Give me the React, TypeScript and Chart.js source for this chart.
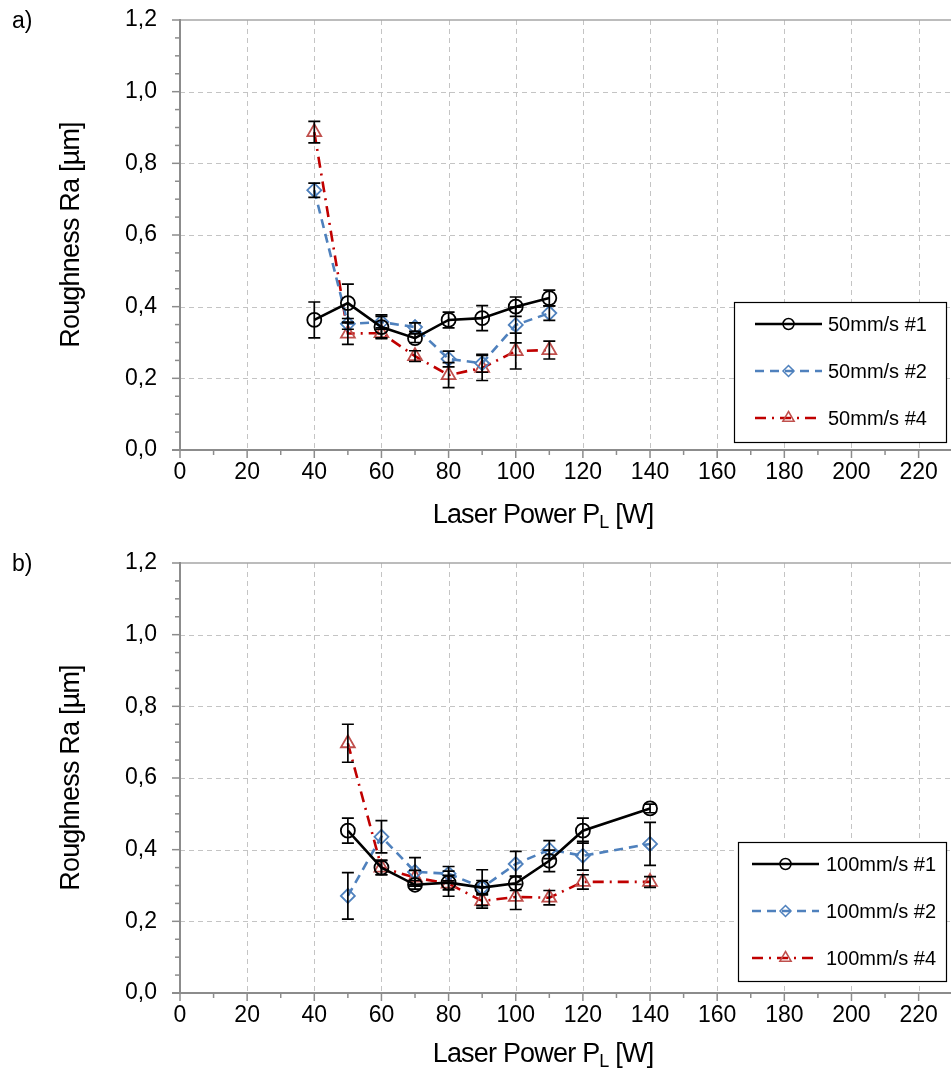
import React, { useEffect, useRef } from "react";
import { Chart, registerables } from "chart.js";

Chart.register(...registerables);

// ---------- data ----------
const powerA = [40, 50, 60, 70, 80, 90, 100, 110];
const a1 = [0.363, 0.41, 0.343, 0.312, 0.363, 0.368, 0.4, 0.424];
const a1Err = [0.05, 0.053, 0.03, 0.012, 0.022, 0.035, 0.027, 0.022];
const a2 = [0.725, 0.352, 0.357, 0.343, 0.254, 0.242, 0.349, 0.382];
const a2Err = [0.02, 0.015, 0.02, 0.012, 0.022, 0.025, 0.05, 0.02];
const a3 = [0.887, 0.325, 0.326, 0.262, 0.209, 0.229, 0.276, 0.279];
const a3Err = [0.03, 0.03, 0.015, 0.015, 0.035, 0.035, 0.05, 0.025];
const labelsA = ["50mm/s #1", "50mm/s #2", "50mm/s #4"];

const powerB = [50, 60, 70, 80, 90, 100, 110, 120, 140];
const b1 = [0.453, 0.35, 0.302, 0.308, 0.294, 0.306, 0.369, 0.453, 0.515];
const b1Err = [0.035, 0.02, 0.012, 0.02, 0.02, 0.02, 0.03, 0.035, 0.012];
const b2 = [0.271, 0.436, 0.338, 0.333, 0.294, 0.36, 0.4, 0.383, 0.416];
const b2Err = [0.065, 0.045, 0.04, 0.02, 0.05, 0.035, 0.025, 0.04, 0.06];
const b3 = [0.697, 0.35, 0.322, 0.305, 0.257, 0.268, 0.266, 0.31, 0.31];
const b3Err = [0.053, 0.02, 0.02, 0.035, 0.02, 0.035, 0.02, 0.02, 0.015];
const labelsB = ["100mm/s #1", "100mm/s #2", "100mm/s #4"];

const xMin = 0, xMax = 230, xMajor = 20, xMinor = 10;
const yMin = 0, yMax = 1.2, yMajor = 0.2, yMinor = 0.05;
const xTitle = "Laser Power P";
const xTitleSub = "L";
const xTitleEnd = " [W]";
const yTitle = "Roughness Ra [µm]";

const FONT = "'Liberation Sans', Arial, sans-serif";
const CANVAS_W = 962; // extra right space absorbed by Chart.js tick padding, clipped by container

const styles = [
  { color: "#000000", markColor: "#000000", dash: [] as number[], pointStyle: "circle", r: 7, lw: 2.6 },
  { color: "#4F81BD", markColor: "#4F81BD", dash: [9, 6], pointStyle: "rectRot", r: 7, lw: 2.6 },
  { color: "#C00000", markColor: "#C0504D", dash: [11, 6, 2, 6], pointStyle: "triangle", r: 8, lw: 2.6 },
];

function drawMarker(ctx: CanvasRenderingContext2D, style: string, x: number, y: number, r: number) {
  ctx.beginPath();
  if (style === "circle") {
    ctx.arc(x, y, r, 0, Math.PI * 2);
  } else if (style === "rectRot") {
    ctx.moveTo(x, y - r);
    ctx.lineTo(x + r, y);
    ctx.lineTo(x, y + r);
    ctx.lineTo(x - r, y);
    ctx.closePath();
  } else {
    ctx.moveTo(x, y - r);
    ctx.lineTo(x + r * 0.87, y + r * 0.5);
    ctx.lineTo(x - r * 0.87, y + r * 0.5);
    ctx.closePath();
  }
  ctx.stroke();
}

type PanelProps = {
  top: number;
  height: number;
  letter: string;
  xs: number[];
  series: number[][];
  errs: number[][];
  labels: string[];
  titleY: number;
  legend: { x0: number; x1: number; y0: number; y1: number; rows: number[]; l0: number; l1: number; tx: number };
};

function Panel(props: PanelProps) {
  const ref = useRef<HTMLCanvasElement | null>(null);
  useEffect(() => {
    const canvas = ref.current;
    if (!canvas) return;
    const { xs, series, errs, labels, legend, letter, height, titleY } = props;
    const datasets = series.map((s, i) => ({
      label: labels[i],
      data: xs.map((x, j) => ({ x, y: s[j] })),
      borderColor: styles[i].color,
      borderWidth: styles[i].lw,
      borderDash: styles[i].dash,
      pointStyle: styles[i].pointStyle,
      pointRadius: styles[i].r,
      pointBorderColor: styles[i].markColor,
      pointBackgroundColor: "rgba(0,0,0,0)",
      pointBorderWidth: 1.8,
      showLine: true,
      fill: false,
      tension: 0,
    }));

    const plugin = {
      id: "decor",
      beforeDatasetsDraw(chart: any) {
        const ctx = chart.ctx as CanvasRenderingContext2D;
        const xs_ = chart.scales.x;
        const ys_ = chart.scales.y;
        const a = chart.chartArea;
        ctx.save();
        ctx.strokeStyle = "#c4c4c4";
        ctx.lineWidth = 1;
        ctx.setLineDash([5, 4]);
        for (let v = xMajor; v <= xMax + 1e-9; v += xMajor) {
          const px = Math.round(xs_.getPixelForValue(v)) + 0.5;
          ctx.beginPath();
          ctx.moveTo(px, a.top);
          ctx.lineTo(px, a.bottom);
          ctx.stroke();
        }
        for (let k = 1; k * yMajor < yMax - 1e-9; k++) {
          const py = Math.round(ys_.getPixelForValue(k * yMajor)) + 0.5;
          ctx.beginPath();
          ctx.moveTo(a.left, py);
          ctx.lineTo(a.right, py);
          ctx.stroke();
        }
        ctx.setLineDash([]);
        ctx.strokeStyle = "#a6a6a6";
        ctx.lineWidth = 1.5;
        ctx.beginPath();
        ctx.moveTo(a.left, a.top);
        ctx.lineTo(a.right, a.top);
        ctx.stroke();
        ctx.strokeStyle = "#8c8c8c";
        ctx.lineWidth = 2;
        ctx.beginPath();
        ctx.moveTo(a.left, a.top - 1);
        ctx.lineTo(a.left, a.bottom);
        ctx.moveTo(a.left - 8, a.bottom);
        ctx.lineTo(a.right, a.bottom);
        ctx.stroke();
        ctx.lineWidth = 1.5;
        const ny = Math.round((yMax - yMin) / yMinor);
        for (let k = 0; k <= ny; k++) {
          const v = yMin + k * yMinor;
          const py = ys_.getPixelForValue(v);
          const major = k % Math.round(yMajor / yMinor) === 0;
          ctx.beginPath();
          ctx.moveTo(a.left - (major ? 8 : 5), py);
          ctx.lineTo(a.left, py);
          ctx.stroke();
        }
        const nx = Math.round((xMax - xMin) / xMinor);
        for (let k = 0; k <= nx; k++) {
          const v = xMin + k * xMinor;
          const px = xs_.getPixelForValue(v);
          const major = k % Math.round(xMajor / xMinor) === 0;
          ctx.beginPath();
          ctx.moveTo(px, a.bottom);
          ctx.lineTo(px, a.bottom + (major ? 8 : 5));
          ctx.stroke();
        }
        ctx.restore();
      },
      afterDatasetsDraw(chart: any) {
        const ctx = chart.ctx as CanvasRenderingContext2D;
        const xs_ = chart.scales.x;
        const ys_ = chart.scales.y;
        ctx.save();
        ctx.strokeStyle = "#000";
        ctx.lineWidth = 1.7;
        ctx.setLineDash([]);
        series.forEach((s, i) => {
          s.forEach((v, j) => {
            const e = errs[i][j];
            const px = xs_.getPixelForValue(xs[j]);
            const p0 = ys_.getPixelForValue(v - e);
            const p1 = ys_.getPixelForValue(v + e);
            ctx.beginPath();
            ctx.moveTo(px, p0);
            ctx.lineTo(px, p1);
            ctx.moveTo(px - 6, p0);
            ctx.lineTo(px + 6, p0);
            ctx.moveTo(px - 6, p1);
            ctx.lineTo(px + 6, p1);
            ctx.stroke();
          });
        });
        ctx.restore();
      },
      afterDraw(chart: any) {
        const ctx = chart.ctx as CanvasRenderingContext2D;
        const a = chart.chartArea;
        ctx.save();
        ctx.fillStyle = "#000";
        ctx.font = `23px ${FONT}`;
        ctx.textAlign = "left";
        ctx.textBaseline = "middle";
        ctx.fillText(letter, 12, 22);
        // x title with subscript
        ctx.font = `27px ${FONT}`;
        (ctx as any).letterSpacing = "-0.8px";
        const w1 = ctx.measureText(xTitle).width;
        ctx.font = `18px ${FONT}`;
        const w2 = ctx.measureText(xTitleSub).width;
        ctx.font = `27px ${FONT}`;
        const w3 = ctx.measureText(xTitleEnd).width;
        const total = w1 + w2 + w3;
        const cx = 543;
        let x0 = cx - total / 2;
        ctx.textBaseline = "alphabetic";
        ctx.fillText(xTitle, x0, titleY + 10);
        x0 += w1;
        ctx.font = `18px ${FONT}`;
        ctx.fillText(xTitleSub, x0, titleY + 15);
        x0 += w2;
        ctx.font = `27px ${FONT}`;
        ctx.fillText(xTitleEnd, x0, titleY + 10);
        // y title
        ctx.save();
        ctx.translate(72, (a.top + a.bottom) / 2);
        ctx.rotate(-Math.PI / 2);
        ctx.textAlign = "center";
        ctx.textBaseline = "middle";
        ctx.font = `27px ${FONT}`;
        ctx.fillText(yTitle, 0, 0);
        ctx.restore();
        (ctx as any).letterSpacing = "0px";
        // legend
        ctx.fillStyle = "#fff";
        ctx.fillRect(legend.x0, legend.y0, legend.x1 - legend.x0, legend.y1 - legend.y0);
        ctx.strokeStyle = "#000";
        ctx.lineWidth = 1.2;
        ctx.strokeRect(legend.x0 + 0.5, legend.y0 + 0.5, legend.x1 - legend.x0, legend.y1 - legend.y0);
        labels.forEach((lab, i) => {
          const ry = legend.rows[i];
          const st = styles[i];
          ctx.strokeStyle = st.color;
          ctx.lineWidth = st.lw;
          ctx.setLineDash(st.dash);
          ctx.beginPath();
          ctx.moveTo(legend.l0, ry);
          ctx.lineTo(legend.l1, ry);
          ctx.stroke();
          ctx.setLineDash([]);
          ctx.strokeStyle = st.markColor;
          ctx.lineWidth = 1.5;
          drawMarker(ctx, st.pointStyle, (legend.l0 + legend.l1) / 2, ry, st.pointStyle === "triangle" ? 6.5 : 5.5);
          ctx.fillStyle = "#000";
          ctx.font = `20px ${FONT}`;
          ctx.textAlign = "left";
          ctx.textBaseline = "middle";
          ctx.fillText(lab, legend.tx, ry + 1);
        });
        ctx.restore();
      },
    };

    const chart = new Chart(canvas, {
      type: "scatter",
      data: { datasets: datasets as any },
      plugins: [plugin],
      options: {
        animation: false,
        responsive: false,
        maintainAspectRatio: false,
        layout: { padding: { top: 20, left: 0, right: 0, bottom: 0 } },
        plugins: { legend: { display: false }, tooltip: { enabled: false } },
        scales: {
          x: {
            type: "linear",
            min: xMin,
            max: xMax,
            afterFit: (s: any) => {
              s.height = height - 450;
              s.paddingLeft = 0;
              s.paddingRight = 0;
              s.paddingTop = 0;
              s.paddingBottom = 0;
            },
            grid: { display: false, drawTicks: false },
            border: { display: false },
            ticks: {
              stepSize: xMinor,
              autoSkip: false,
              maxRotation: 0,
              padding: 9,
              color: "#000",
              font: { family: FONT, size: 23 },
              callback: (v: any) => (Math.round(Number(v)) % xMajor === 0 && Number(v) <= 220 ? String(Math.round(Number(v))) : ""),
            },
          },
          y: {
            type: "linear",
            min: yMin,
            max: yMax,
            afterFit: (s: any) => {
              s.width = 180;
              s.paddingLeft = 0;
              s.paddingRight = 0;
              s.paddingTop = 0;
              s.paddingBottom = 0;
            },
            grid: { display: false, drawTicks: false },
            border: { display: false },
            ticks: {
              stepSize: yMinor,
              autoSkip: false,
              padding: 23,
              color: "#000",
              font: { family: FONT, size: 23 },
              callback: (v: any) => {
                const n = Math.round(Number(v) * 100);
                return n % Math.round(yMajor * 100) === 0 ? (n / 100).toFixed(1).replace(".", ",") : "";
              },
            },
          },
        },
      } as any,
    });
    return () => chart.destroy();
  }, []);
  return (
    <canvas
      ref={ref}
      width={CANVAS_W}
      height={props.height}
      style={{ position: "absolute", left: 0, top: props.top, width: CANVAS_W, height: props.height, display: "block" }}
    />
  );
}

export default function App() {
  return (
    <div style={{ position: "absolute", left: 0, top: 0, width: 951, height: 1069, background: "#fff", overflow: "hidden" }}>
      <Panel
        top={0}
        height={543}
        letter="a)"
        xs={powerA}
        series={[a1, a2, a3]}
        errs={[a1Err, a2Err, a3Err]}
        labels={labelsA}
        titleY={513}
        legend={{ x0: 734, x1: 946, y0: 302, y1: 442, rows: [324, 371, 418], l0: 755, l1: 822, tx: 828 }}
      />
      <Panel
        top={543}
        height={526}
        letter="b)"
        xs={powerB}
        series={[b1, b2, b3]}
        errs={[b1Err, b2Err, b3Err]}
        labels={labelsB}
        titleY={509}
        legend={{ x0: 738, x1: 946, y0: 299, y1: 438, rows: [321, 368, 415], l0: 752, l1: 819, tx: 826 }}
      />
    </div>
  );
}
